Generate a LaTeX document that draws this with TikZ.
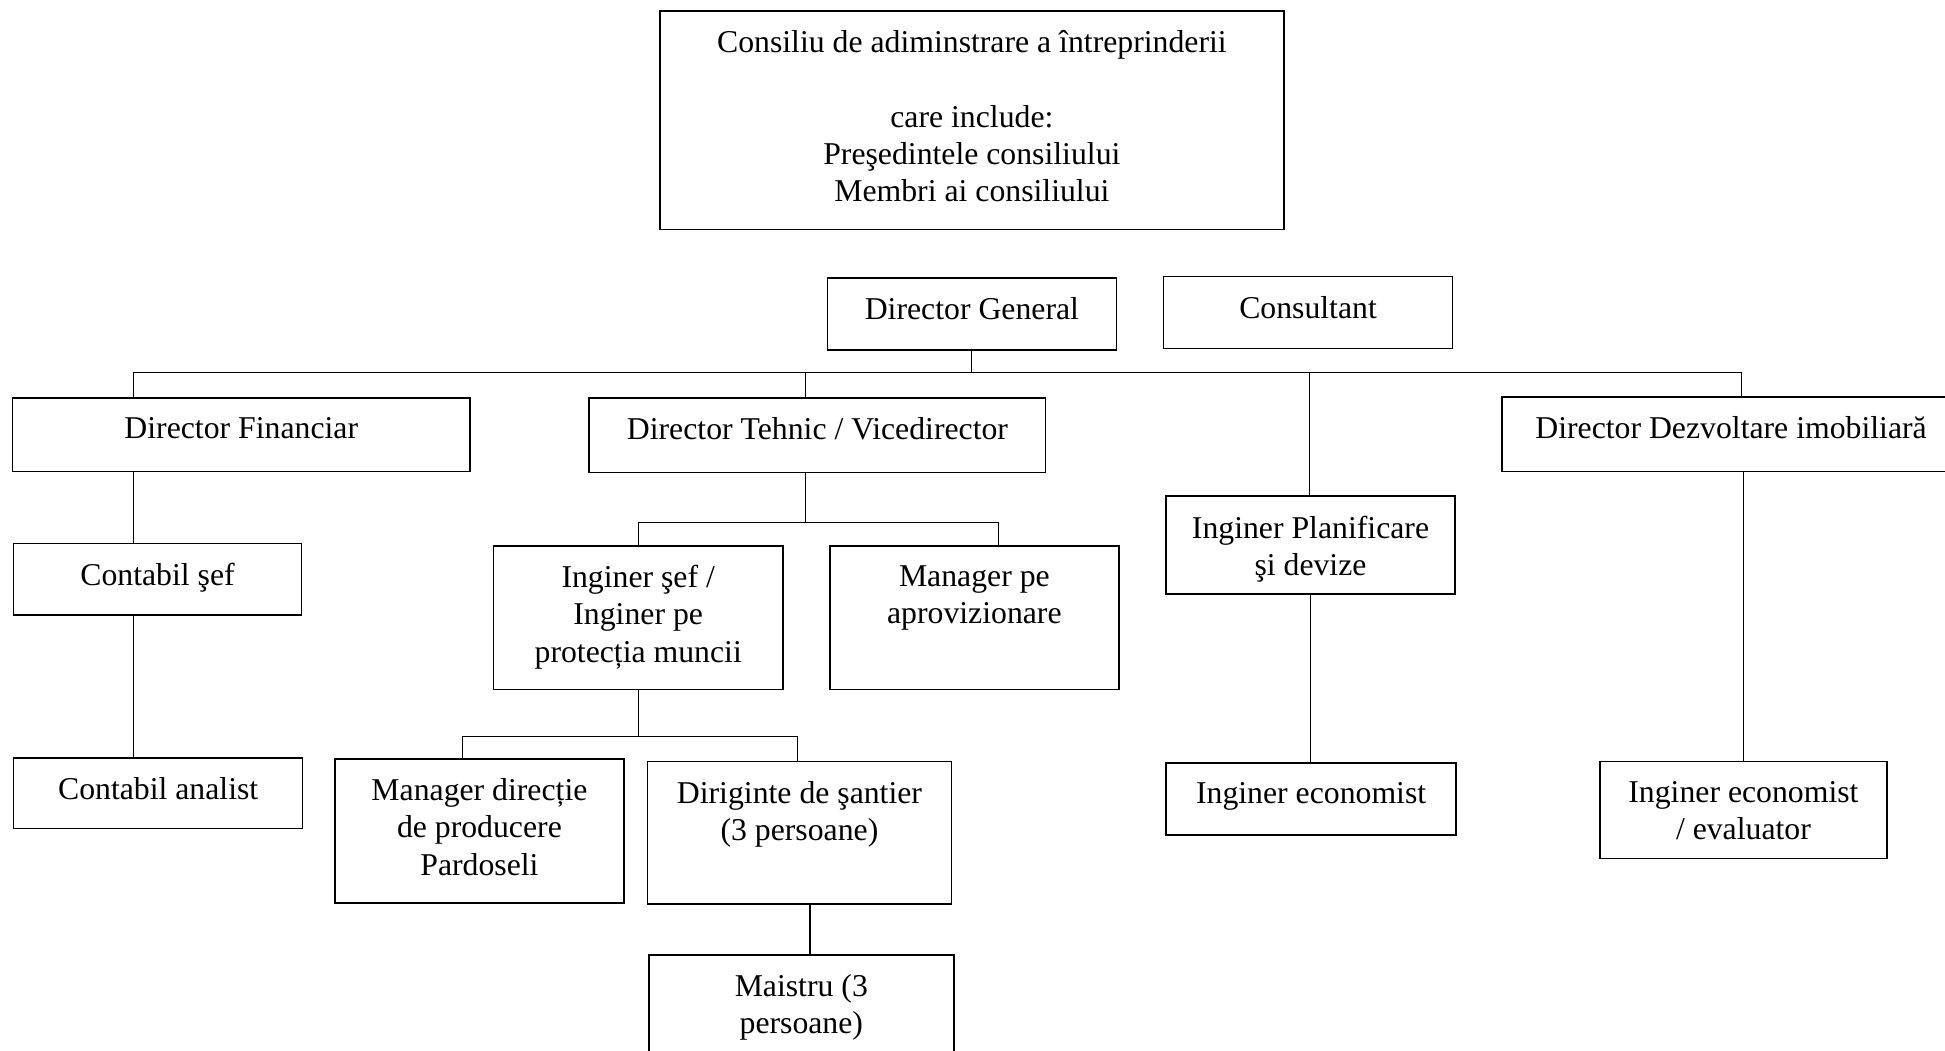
\documentclass[tikz,border=0pt]{standalone}
\usepackage{fontspec}
\setmainfont{Liberation Serif}
\usetikzlibrary{fit}

\begin{document}
\begin{tikzpicture}[x=0.025cm,y=-0.025cm,
    box/.style={draw,line width=0.9pt,inner sep=0pt},
    txt/.style={anchor=north,align=center,inner sep=0pt,yshift=-11.5pt,font=\fontsize{18.2}{21.3}\selectfont},
    link/.style={draw,line width=0.6pt}]
    \useasboundingbox (0,0) rectangle (1568,847);

    \node[box,fit={(532,9) (1035,185)}] (cons) {};
    \node[box,fit={(667,224) (900,282)}] (dg) {};
    \node[box,fit={(938,223) (1171,281)}] (cst) {};
    \node[box,fit={(10,321) (379,380)}] (df) {};
    \node[box,fit={(475,321) (843,381)}] (dt) {};
    \node[box,fit={(1211,320) (1580,380)}] (dd) {};
    \node[box,fit={(940,400) (1173,479)}] (ip) {};
    \node[box,fit={(11,438) (243,496)}] (cs) {};
    \node[box,fit={(398,440) (631,556)}] (is) {};
    \node[box,fit={(669,440) (902,556)}] (ma) {};
    \node[box,fit={(11,611) (244,668)}] (ca) {};
    \node[box,fit={(270,612) (503,728)}] (md) {};
    \node[box,fit={(522,614) (767,729)}] (dr) {};
    \node[box,fit={(523,770) (769,870)}] (mt) {};
    \node[box,fit={(940,615) (1174,673)}] (ie) {};
    \node[box,fit={(1290,614) (1521,692)}] (iee) {};

    \node[txt] (cons-t) at (cons.north) {Consiliu de adiminstrare a întreprinderii\\[21.3pt]care include:\\Preşedintele consiliului\\Membri ai consiliului};
    \node[txt] (dg-t) at (dg.north) {Director General};
    \node[txt] (cst-t) at (cst.north) {Consultant};
    \node[txt] (df-t) at (df.north) {Director Financiar};
    \node[txt] (dt-t) at (dt.north) {Director Tehnic / Vicedirector};
    \node[txt] (dd-t) at (dd.north) {Director Dezvoltare imobiliară};
    \node[txt] (ip-t) at (ip.north) {Inginer Planificare\\şi devize};
    \node[txt] (cs-t) at (cs.north) {Contabil şef};
    \node[txt] (is-t) at (is.north) {Inginer şef /\\Inginer pe\\protecția muncii};
    \node[txt] (ma-t) at (ma.north) {Manager pe\\aprovizionare};
    \node[txt] (ca-t) at (ca.north) {Contabil analist};
    \node[txt] (md-t) at (md.north) {Manager direcție\\de producere\\Pardoseli};
    \node[txt] (dr-t) at (dr.north) {Diriginte de şantier\\(3 persoane)};
    \node[txt] (mt-t) at (mt.north) {Maistru (3\\persoane)};
    \node[txt] (ie-t) at (ie.north) {Inginer economist};
    \node[txt] (iee-t) at (iee.north) {Inginer economist\\/ evaluator};

    \coordinate (bF) at (108,300);
    \coordinate (bT) at (649,300);
    \coordinate (bP) at (1056,300);
    \coordinate (bD) at (1404,300);
    \coordinate (bS) at (515,421);
    \coordinate (bA) at (805,421);
    \coordinate (bM) at (373,594);
    \coordinate (bR) at (643,594);
    \coordinate (bX) at (653,750);

    \path[link] (dg.south) -- (dg.south |- bF);
    \path[link] (bF |- df.north) -- (bF) -- (bD) -- (bD |- dd.north);
    \path[link] (bT) -- (bT |- dt.north);
    \path[link] (bP) -- (bP |- ip.north);
    \path[link] (bF |- df.south) -- (bF |- cs.north);
    \path[link] (bF |- cs.south) -- (bF |- ca.north);
    \path[link] (bT |- dt.south) -- (bT |- bS);
    \path[link] (bS |- is.north) -- (bS) -- (bA) -- (bA |- ma.north);
    \path[link] (is.south) -- (is.south |- bM);
    \path[link] (bM |- md.north) -- (bM) -- (bR) -- (bR |- dr.north);
    \path[link] (bX |- dr.south) -- (bX |- mt.north);
    \path[link] (ip.south) -- (ip.south |- ie.north);
    \path[link] (iee.north |- dd.south) -- (iee.north);
\end{tikzpicture}
\end{document}
